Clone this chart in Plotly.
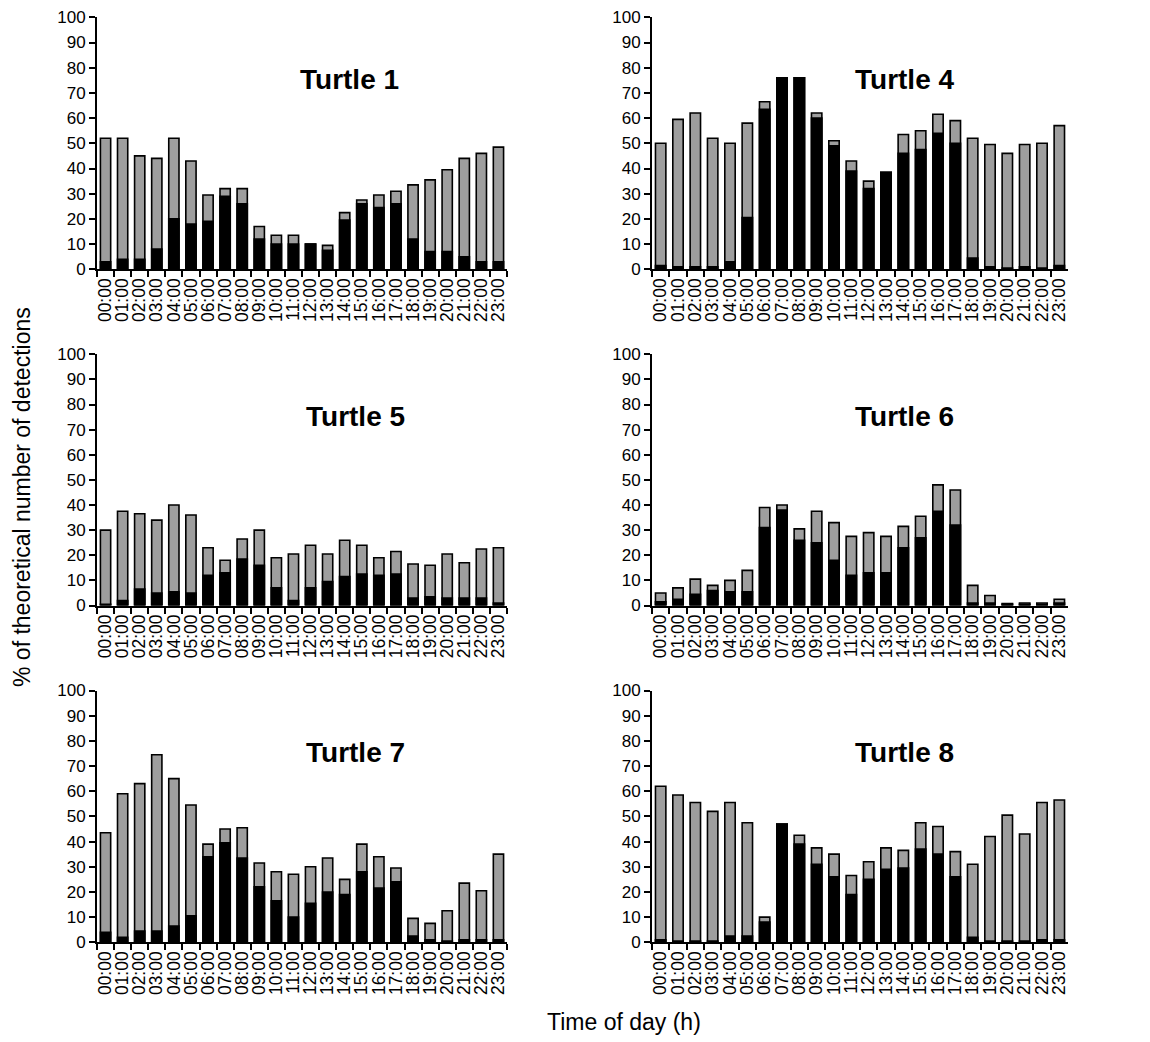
import plotly.graph_objects as go

hours = ["%02d:00" % h for h in range(24)]
y_ticks = list(range(0, 101, 10))

names = ["Turtle 1", "Turtle 4", "Turtle 5", "Turtle 6", "Turtle 7", "Turtle 8"]

# total height of each bar (%)
t1_total = [52, 52, 45, 44, 52, 43, 29.5, 32, 32, 17, 13.5, 13.5, 10, 9.5, 22.5, 27.5, 29.5, 31, 33.5, 35.5, 39.5, 44, 46, 48.5]
t1_black = [3, 4, 4, 8, 20, 18, 19, 29, 26, 12, 10, 10, 10, 7.5, 19.5, 26, 24.5, 26, 12, 7, 7, 5, 3, 3]

t4_total = [50, 59.5, 62, 52, 50, 58, 66.5, 76, 76, 62, 51, 43, 35, 38.5, 53.5, 55, 61.5, 59, 52, 49.5, 46, 49.5, 50, 57]
t4_black = [1.5, 1, 1, 1, 3, 20.5, 63.5, 76, 76, 60, 49, 39, 32, 38.5, 46, 47.5, 54, 50, 4.5, 1, 0.5, 1, 0.5, 1.5]

t5_total = [30, 37.5, 36.5, 34, 40, 36, 23, 18, 26.5, 30, 19, 20.5, 24, 20.5, 26, 24, 19, 21.5, 16.5, 16, 20.5, 17, 22.5, 23]
t5_black = [0.5, 2, 6.5, 5, 5.5, 5, 12, 13, 18.5, 16, 7, 2, 7, 9.5, 11.5, 12.5, 12, 12.5, 3, 3.5, 3, 3, 3, 1]

t6_total = [5, 7, 10.5, 8, 10, 14, 39, 40, 30.5, 37.5, 33, 27.5, 29, 27.5, 31.5, 35.5, 48, 46, 8, 4, 0.8, 1, 1, 2.5]
t6_black = [1.5, 2.5, 4.5, 6, 5.5, 5.5, 31, 38, 26, 25, 18, 12, 13, 13, 23, 27, 37.5, 32, 1, 1, 0.5, 0.5, 0.5, 1]

t7_total = [43.5, 59, 63, 74.5, 65, 54.5, 39, 45, 45.5, 31.5, 28, 27, 30, 33.5, 25, 39, 34, 29.5, 9.5, 7.5, 12.5, 23.5, 20.5, 35]
t7_black = [4, 2, 4.5, 4.5, 6.5, 10.5, 34, 39.5, 33.5, 22, 16.5, 10, 15.5, 20, 19, 28, 21.5, 24, 2.5, 1, 0.5, 1, 1, 1]

t8_total = [62, 58.5, 55.5, 52, 55.5, 47.5, 10, 47, 42.5, 37.5, 35, 26.5, 32, 37.5, 36.5, 47.5, 46, 36, 31, 42, 50.5, 43, 55.5, 56.5]
t8_black = [1, 0.5, 0.5, 0.5, 2.5, 2.5, 8, 47, 39, 31, 26, 19, 25, 29, 29.5, 37, 35, 26, 2, 0.5, 0.5, 0.5, 1, 1]

totals = [t1_total, t4_total, t5_total, t6_total, t7_total, t8_total]
blacks = [t1_black, t4_black, t5_black, t6_black, t7_black, t8_black]

W, H = 1150, 1042
x_doms = [(97 / W, 507 / W), (652 / W, 1068 / W)]
y_doms = [(1 - 269.3 / H, 1 - 17.3 / H), (1 - 605.5 / H, 1 - 354.3 / H), (1 - 942.3 / H, 1 - 690.5 / H)]

fig = go.Figure()
font_family = "Liberation Sans, Arial, sans-serif"
GREY = "#9e9e9e"

layout = dict(
    template="none",
    width=W, height=H,
    margin=dict(l=0, r=0, t=0, b=0, pad=0),
    paper_bgcolor="white", plot_bgcolor="white",
    barmode="overlay", showlegend=False,
    font=dict(family=font_family, color="black"),
)
annotations = []

for i in range(6):
    row, col = divmod(i, 2)
    idx = "" if i == 0 else str(i + 1)
    xa, ya = "x" + idx, "y" + idx
    fig.add_trace(go.Bar(x=hours, y=totals[i], xaxis=xa, yaxis=ya, width=0.6,
                         marker=dict(color=GREY, line=dict(color="black", width=1.6)),
                         hoverinfo="skip"))
    fig.add_trace(go.Bar(x=hours, y=blacks[i], xaxis=xa, yaxis=ya, width=0.6,
                         marker=dict(color="black", line=dict(color="black", width=1.6)),
                         hoverinfo="skip"))
    layout["xaxis" + idx] = dict(
        domain=x_doms[col], anchor=ya, type="category", automargin=False,
        categoryorder="array", categoryarray=hours,
        tickmode="array", tickvals=hours, ticktext=hours,
        showline=True, linecolor="black", linewidth=2,
        ticks="outside", tickson="boundaries", ticklen=6, tickwidth=2, tickcolor="black",
        tickangle=-90, tickfont=dict(size=17.5, family=font_family, color="black"),
        showgrid=False, zeroline=False, range=[-0.5, 23.5],
    )
    layout["yaxis" + idx] = dict(
        domain=y_doms[row], anchor=xa, automargin=False,
        range=[0, 100], tickmode="array", tickvals=y_ticks,
        showline=True, linecolor="black", linewidth=2,
        ticks="outside", ticklen=6, tickwidth=2, tickcolor="black",
        tickfont=dict(size=17, family=font_family, color="black"),
        showgrid=False, zeroline=False,
    )
    tx = 0.617 if col == 0 else 0.608
    if i in (2, 4):
        tx = 0.63
    annotations.append(dict(
        text="<b>%s</b>" % names[i], xref="x%s domain" % idx, yref="y%s domain" % idx,
        x=tx, y=0.753, xanchor="center", yanchor="middle", showarrow=False,
        font=dict(size=28, family=font_family, color="black"),
    ))

annotations.append(dict(
    text="% of theoretical number of detections", xref="paper", yref="paper",
    x=22 / W, y=1 - 497 / H, xanchor="center", yanchor="middle", textangle=-90,
    showarrow=False, font=dict(size=23, family=font_family, color="black"),
))
annotations.append(dict(
    text="Time of day (h)", xref="paper", yref="paper",
    x=545 / W, y=1 - 1022 / H, xanchor="left", yanchor="middle",
    showarrow=False, font=dict(size=23, family=font_family, color="black"),
))
layout["annotations"] = annotations
fig.update_layout(**layout)
fig.write_html("out.html", config={"displayModeBar": False},
               post_script="document.body.style.margin='0';")
